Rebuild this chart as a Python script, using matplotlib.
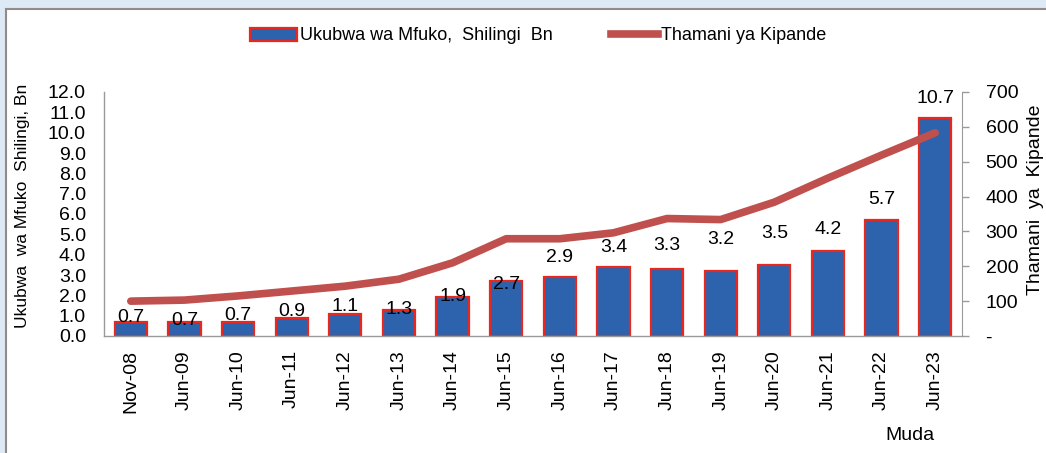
import matplotlib
matplotlib.use("Agg")
import matplotlib.pyplot as plt
from matplotlib.patches import Rectangle, Patch
from matplotlib.lines import Line2D
import numpy as np

# ---------------- data ----------------
categories = ["Nov-08", "Jun-09", "Jun-10", "Jun-11", "Jun-12", "Jun-13", "Jun-14", "Jun-15",
              "Jun-16", "Jun-17", "Jun-18", "Jun-19", "Jun-20", "Jun-21", "Jun-22", "Jun-23"]
fund_size_bn = [0.7, 0.7, 0.7, 0.9, 1.1, 1.3, 1.9, 2.7, 2.9, 3.4, 3.3, 3.2, 3.5, 4.2, 5.7, 10.7]
unit_value = [100, 103, 115, 129, 143, 163, 210, 279, 279, 296, 337, 334, 384, 453, 519, 583]
right_tick_values = [0, 100, 200, 300, 400, 500, 600, 700]
right_tick_labels = ["-", "100", "200", "300", "400", "500", "600", "700"]
left_tick_values = [0, 1, 2, 3, 4, 5, 6, 7, 8, 9, 10, 11, 12]

# ---------------- style / layout ----------------
plt.rcParams['font.family'] = ['Liberation Sans', 'DejaVu Sans']
FS = 13
FS_TICK = 14
W, H = 1046, 453
bar_color = "#2d63ad"
bar_edge = "#e8281e"
line_color = "#c0504d"
spine_color = "#9a9a9a"
label_offsets_px = [4, 1, 6, 6, 7, 0, 1, -3, 20, 19, 23, 31, 31, 21, 21, 20]

fig = plt.figure(figsize=(W / 100, H / 100), dpi=100)
fig.patch.set_facecolor("#dde9f5")
frame = Rectangle((6 / W, -0.01), 1.0, (H - 9) / H + 0.01, transform=fig.transFigure,
                  facecolor="white", edgecolor="#958a8a", linewidth=1.5, zorder=-10)
fig.patches.append(frame)

ax = fig.add_axes([104 / W, (H - 336) / H, (962 - 104) / W, (336 - 92) / H])
ax.set_facecolor("none")
x = np.arange(len(categories))
bars = ax.bar(x, fund_size_bn, width=0.6, color=bar_color, edgecolor=bar_edge,
              linewidth=1.6, zorder=2)
ax.set_xlim(-0.5, len(categories) - 0.5)
ax.set_ylim(0, 12)
ax.set_yticks(left_tick_values)
ax.set_yticklabels([f"{v:.1f}" for v in left_tick_values], fontsize=FS_TICK)
ax.tick_params(axis='y', length=0, pad=13)
ax.set_xticks(x)
ax.set_xticklabels(categories, rotation=90, fontsize=FS_TICK)
ax.tick_params(axis='x', length=0, pad=10)
for s in ["top", "right"]:
    ax.spines[s].set_visible(False)
for s in ["left", "bottom"]:
    ax.spines[s].set_color(spine_color)
    ax.spines[s].set_linewidth(1.0)

for xi, v, off in zip(x, fund_size_bn, label_offsets_px):
    ax.annotate(f"{v:.1f}", (xi, v), xytext=(0, off * 0.72), textcoords="offset points",
                ha="center", va="center", fontsize=FS_TICK, zorder=3)

ax2 = ax.twinx()
ax2.plot(x, unit_value, color=line_color, linewidth=5.5, solid_capstyle="round",
         solid_joinstyle="round", zorder=4)
ax2.set_ylim(0, 700)
ax2.set_yticks(right_tick_values)
ax2.set_yticklabels(right_tick_labels, fontsize=FS_TICK)
ax2.tick_params(axis='y', length=5, width=1, color=spine_color, pad=12)
for s in ["top", "left", "bottom"]:
    ax2.spines[s].set_visible(False)
ax2.spines["right"].set_color(spine_color)

fig.text(23 / W, (H - 206) / H, "Ukubwa  wa Mfuko  Shilingi, Bn", rotation=90,
         ha="center", va="center", fontsize=12.5)
fig.text(1036 / W, (H - 200) / H, "Thamani  ya  Kipande", rotation=90,
         ha="center", va="center", fontsize=FS_TICK)
fig.text(910 / W, (H - 435) / H, "Muda", ha="center", va="center", fontsize=FS_TICK)

handles = [Patch(facecolor=bar_color, edgecolor=bar_edge, linewidth=1.6),
           Line2D([0], [0], color=line_color, linewidth=5.5)]
fig.legend(handles, ["Ukubwa wa Mfuko,  Shilingi  Bn", "Thamani ya Kipande"],
           loc="center", bbox_to_anchor=(538 / W, (H - 36) / H), ncol=2, frameon=False,
           fontsize=FS, handlelength=2.6, handletextpad=0.2, columnspacing=3.2)

fig.savefig("out.png", dpi=100)
